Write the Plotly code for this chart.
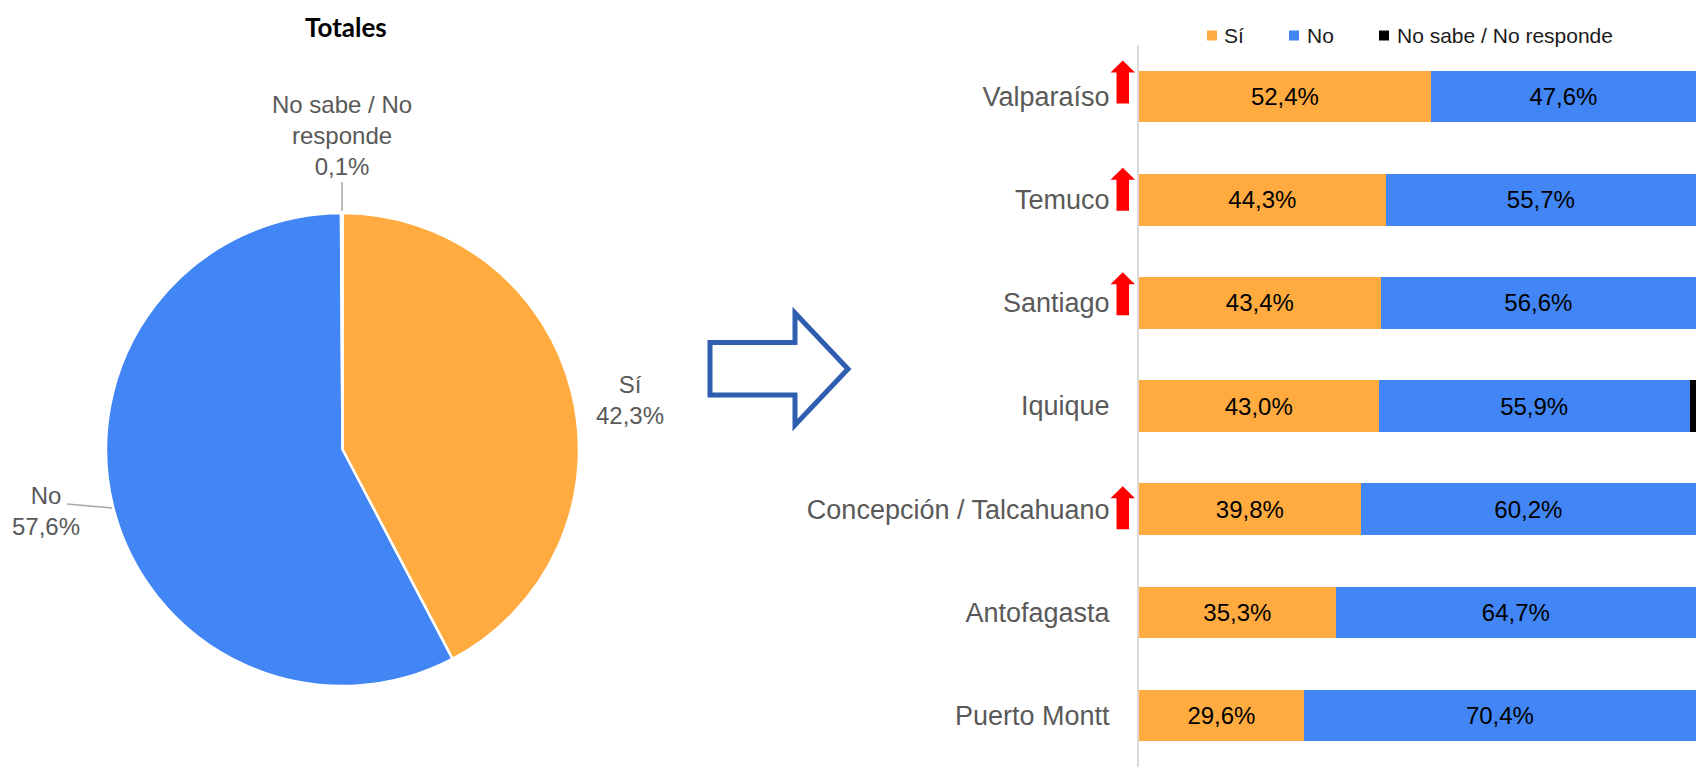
import plotly.graph_objects as go

# ---------------- data ----------------
pie_labels = ["Sí", "No", "No sabe / No responde"]
pie_values = [42.3, 57.6, 0.1]
pie_label_display = ["Sí", "No", "No sabe / No<br>responde"]

cities = ["Valparaíso", "Temuco", "Santiago", "Iquique",
          "Concepción / Talcahuano", "Antofagasta", "Puerto Montt"]
si_values = [52.4, 44.3, 43.4, 43.0, 39.8, 35.3, 29.6]
no_values = [47.6, 55.7, 56.6, 55.9, 60.2, 64.7, 70.4]
nsnr_values = [0.0, 0.0, 0.0, 1.1, 0.0, 0.0, 0.0]
rising_cities = ["Valparaíso", "Temuco", "Santiago", "Concepción / Talcahuano"]

series_names = ["Sí", "No", "No sabe / No responde"]
colors = ["#FFAB40", "#4285F4", "#000000"]

# page has an 8px body margin; figure fills the rest of the 1705x767 window
OFF = 8
W, H = 1705 - OFF, 767 - OFF
FONT = "Liberation Sans, Arial, sans-serif"

# vertical offset (px) of each rising arrow centre from its bar centre (style)
arrow_dy = {"Valparaíso": -14, "Temuco": -10, "Santiago": -8.5,
            "Concepción / Talcahuano": -1}


def px(x):
    return (x - OFF) / W


def py(y):
    return 1 - (y - OFF) / H


def fmt(v):
    return f"{v:.1f}%".replace(".", ",")


fig = go.Figure()

# ---------------- pie ----------------
cx, cy, r = 342.5, 449.5, 236.5
fig.add_trace(go.Pie(
    labels=pie_labels, values=pie_values, sort=False, direction="clockwise",
    rotation=0, textinfo="none", showlegend=False,
    marker=dict(colors=colors, line=dict(color="white", width=2.5)),
    domain=dict(x=[px(cx - r), px(cx + r)], y=[py(cy + r), py(cy - r)]),
))

# pie labels
pie_label_pos = [(630, 400), (46, 511), (342, 135)]
for lab, val, (lx, ly) in zip(pie_label_display, pie_values, pie_label_pos):
    fig.add_annotation(x=px(lx), y=py(ly), xref="paper", yref="paper",
                       text=f"{lab}<br>{fmt(val)}", showarrow=False,
                       xanchor="center", yanchor="middle", align="center",
                       font=dict(family=FONT, size=24, color="#595959"))

# leader lines
fig.add_shape(type="line", xref="paper", yref="paper",
              x0=px(342), y0=py(182), x1=px(342), y1=py(211),
              line=dict(color="#A6A6A6", width=1.5))
fig.add_shape(type="line", xref="paper", yref="paper",
              x0=px(67), y0=py(504), x1=px(112), y1=py(508),
              line=dict(color="#A6A6A6", width=1.5))

# title
fig.add_annotation(x=px(346), y=py(8.5), xref="paper", yref="paper",
                   text="<b>Totales</b>", showarrow=False,
                   xanchor="center", yanchor="top",
                   font=dict(family="Lato, Carlito, sans-serif", size=26, color="#000000"))

# big outline arrow
pts = [(710, 342.5), (795, 342.5), (795, 313), (848, 369), (795, 425), (795, 395), (710, 395)]
path = "M " + " L ".join(f"{px(x):.5f},{py(y):.5f}" for x, y in pts) + " Z"
fig.add_shape(type="path", xref="paper", yref="paper", path=path,
              line=dict(color="#2F5DAF", width=5), fillcolor="rgba(0,0,0,0)")

# ---------------- bars ----------------
for name, vals, col in zip(series_names, [si_values, no_values, nsnr_values], colors):
    show_text = name != "No sabe / No responde"
    fig.add_trace(go.Bar(
        y=cities, x=vals, name=name, orientation="h",
        marker=dict(color=col, line=dict(width=0)),
        xaxis="x2", yaxis="y2", showlegend=False,
        texttemplate="%{x:.1f}%" if show_text else None,
        textposition="inside" if show_text else "none",
        insidetextanchor="middle", textangle=0,
        textfont=dict(family=FONT, size=24, color="#000000"),
        constraintext="none",
    ))

# red rising arrows (vertical positions in category units)
top_px = 45
band = (767 - top_px) / 7.0
for c in rising_cities:
    i = cities.index(c)
    off = arrow_dy[c] / band
    top, base, bot = i + off - 22 / band, i + off - 10 / band, i + off + 21 / band
    xl, xr, sl, sr, xc = 1110.5, 1135, 1116.5, 1129, 1122.75
    p = (f"M {px(sl)},{bot} L {px(sl)},{base} L {px(xl)},{base} L {px(xc)},{top} "
         f"L {px(xr)},{base} L {px(sr)},{base} L {px(sr)},{bot} Z")
    fig.add_shape(type="path", xref="paper", yref="y2", path=p,
                  fillcolor="#FF0000", line=dict(width=0))

# custom legend
leg = [(1207, 1222), (1289, 1305), (1379, 1395)]
for (sx, tx), name, col in zip(leg, series_names, colors):
    fig.add_shape(type="rect", xref="paper", yref="paper",
                  x0=px(sx), x1=px(sx + 10), y0=py(40.5), y1=py(30.5),
                  fillcolor=col, line=dict(width=0))
    fig.add_annotation(x=px(tx), y=py(35), xref="paper", yref="paper",
                       text=name, showarrow=False, xanchor="left", yanchor="middle",
                       font=dict(family=FONT, size=21, color="#1A1A1A"))

fig.update_layout(
    width=W, height=H,
    margin=dict(l=0, r=0, t=0, b=0),
    paper_bgcolor="white", plot_bgcolor="white",
    separators=",.",
    barmode="stack", bargap=0.5,
    showlegend=False,
    xaxis2=dict(domain=[px(1139), px(1696)], range=[0, 100], anchor="y2",
                showgrid=False, zeroline=False, showticklabels=False, showline=False),
    yaxis2=dict(domain=[0, py(top_px)], anchor="x2", type="category",
                categoryorder="array", categoryarray=cities,
                range=[6.5, -0.5], showgrid=False, zeroline=False,
                showline=True, linecolor="#D9D9D9", linewidth=2, ticks="",
                ticklabelstandoff=22,
                tickfont=dict(family=FONT, size=27, color="#595959")),
)

fig.write_html("out.html")
